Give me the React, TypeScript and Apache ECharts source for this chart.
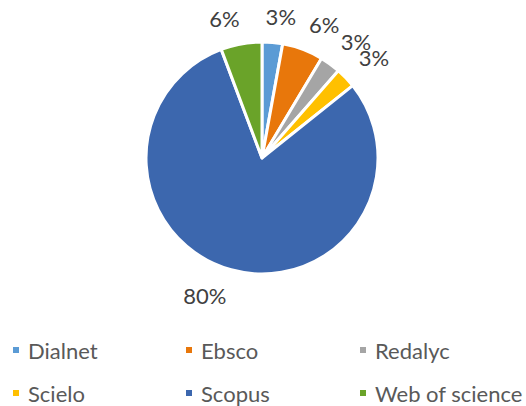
import React, { useEffect, useRef } from "react";
import * as echarts from "echarts";

const categories = ["Dialnet", "Ebsco", "Redalyc", "Scielo", "Scopus", "Web of science"];
const values = [1, 2, 1, 1, 28, 2];
const colors = ["#5B9BD5", "#E8770B", "#A5A5A5", "#FFC000", "#3C67AE", "#6AA329"];

const FONT = "Lato, 'Open Sans', sans-serif";

export default function App() {
  const ref = useRef<HTMLDivElement>(null);
  useEffect(() => {
    document.body.style.margin = "0";
    if (!ref.current) return;
    const chart = echarts.init(ref.current, null, { renderer: "svg" });
    const cx = 262, cy = 158, R = 116, R0 = 134, glyphH = 16;
    const total = values.reduce((a, b) => a + b, 0);
    const mids: number[] = [];
    let acc = 0;
    values.forEach((v) => {
      mids.push(((acc + v / 2) / total) * Math.PI * 2);
      acc += v;
    });
    const clamp = (v: number) => Math.max(-1, Math.min(1, v));
    const legendCols = [11, 184, 358];
    const legendRows = [339, 382];
    const legends = categories.map((name, i) => ({
      data: [name],
      left: legendCols[i % 3],
      top: legendRows[Math.floor(i / 3)],
      padding: 0,
      icon: "rect",
      itemWidth: 8,
      itemHeight: 8,
      selectedMode: false,
      textStyle: { fontSize: 22, color: "#595959", fontFamily: FONT, padding: [0, 0, 0, 3] },
    }));
    chart.setOption({
      animation: false,
      color: colors,
      legend: legends,
      series: [
        {
          type: "pie",
          center: [cx, cy],
          radius: [0, R],
          startAngle: 90,
          clockwise: true,
          avoidLabelOverlap: false,
          itemStyle: { borderColor: "#fff", borderWidth: 3 },
          label: {
            show: true,
            position: "outside",
            formatter: (p: any) => Math.round(p.percent) + "%",
            fontSize: 22,
            fontFamily: FONT,
            color: "#404040",
          },
          labelLine: { show: false, length: 10, length2: 0 },
          labelLayout: (params: any) => {
            const a = mids[params.dataIndex];
            const s = Math.sin(a), c = Math.cos(a);
            const w = params.labelRect.width;
            return {
              x: cx + R0 * s + (w / 2) * clamp(5 * s),
              y: cy - R0 * c - (glyphH / 2) * clamp(5 * c),
              align: "center",
              verticalAlign: "middle",
            };
          },
          data: categories.map((name, i) => ({ name, value: values[i] })),
        },
      ],
    });
    return () => chart.dispose();
  }, []);
  return <div ref={ref} style={{ width: 526, height: 406 }} />;
}
